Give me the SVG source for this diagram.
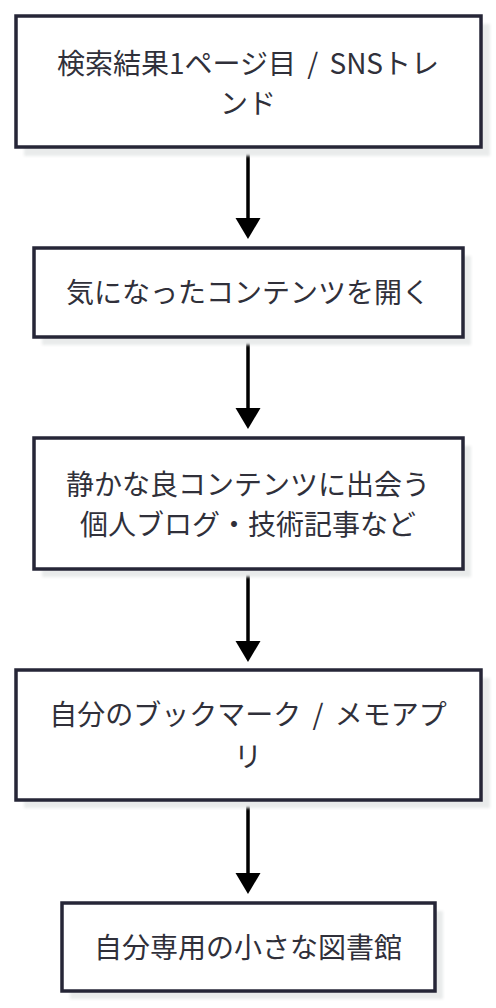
<svg xmlns="http://www.w3.org/2000/svg" width="496" height="1008" viewBox="0 0 496 1008">
<defs>
<filter id="sh" x="-10%" y="-10%" width="120%" height="130%"><feGaussianBlur stdDeviation="1.5"/></filter>
</defs>
<style>
.shadow{fill:#e9ebeb;filter:url(#sh)}
.box{fill:#fff;stroke:#262637;stroke-width:3.5}
.t{font-family:"Noto Sans CJK JP","Noto Sans",sans-serif;font-size:28px;fill:#30303a;text-anchor:middle;dominant-baseline:central;word-spacing:5px}
.edge{stroke:#000;stroke-width:3.5;fill:none}
.head{fill:#000}
</style>
<rect width="496" height="1008" fill="#fff"/>
<g id="connectors">
<line class="edge" x1="248" y1="148" x2="248" y2="218"/>
<path class="head" d="M235.5,218 L260.5,218 L248,239 Z"/>
<line class="edge" x1="248" y1="338" x2="248" y2="408"/>
<path class="head" d="M235.5,408 L260.5,408 L248,429 Z"/>
<line class="edge" x1="248" y1="570" x2="248" y2="641"/>
<path class="head" d="M235.5,641 L260.5,641 L248,662 Z"/>
<line class="edge" x1="248" y1="801" x2="248" y2="873"/>
<path class="head" d="M235.5,873 L260.5,873 L248,894 Z"/>
</g>
<g id="n1">
<rect class="shadow" x="24" y="24" width="466" height="132"/>
<rect class="box" x="16" y="16" width="465" height="131"/>
<text class="t" x="248" y="62">検索結果1ページ目 / SNSトレ</text>
<text class="t" x="248" y="102">ンド</text>
</g>
<g id="n2">
<rect class="shadow" x="42" y="256" width="429" height="89"/>
<rect class="box" x="34" y="248" width="429" height="89"/>
<text class="t" x="248" y="291">気になったコンテンツを開く</text>
</g>
<g id="n3">
<rect class="shadow" x="42" y="446" width="429" height="131"/>
<rect class="box" x="34" y="438" width="429" height="131"/>
<text class="t" x="248" y="483">静かな良コンテンツに出会う</text>
<text class="t" x="248" y="523">個人ブログ・技術記事など</text>
</g>
<g id="n4">
<rect class="shadow" x="24" y="678" width="466" height="130"/>
<rect class="box" x="16" y="670" width="465" height="130"/>
<text class="t" x="248" y="713">自分のブックマーク / メモアプ</text>
<text class="t" x="248" y="755">リ</text>
</g>
<g id="n5">
<rect class="shadow" x="70" y="911" width="373" height="88"/>
<rect class="box" x="62" y="903" width="373" height="88"/>
<text class="t" x="248" y="946">自分専用の小さな図書館</text>
</g>
</svg>
